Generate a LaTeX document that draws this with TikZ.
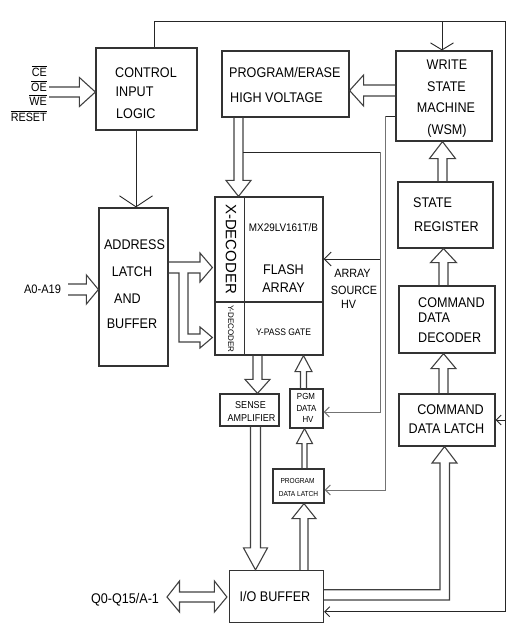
\documentclass[tikz,border=0pt]{standalone}
\usepackage{fontspec}
\setmainfont{Liberation Sans}[FakeStretch=0.9]
\newfontfamily\widefont{Liberation Sans}
\usetikzlibrary{arrows.meta,calc}
% vertical hollow arrow: x-centre, tail anchor, tip anchor, shaft half, head half, head length (+ up, - down)
\newcommand\HV[6]{\draw[harrow] let \p1=(#2), \p2=(#3) in
  ({#1pt-#4pt},\y1) -- ({#1pt-#4pt},{\y2-(#6pt)}) -- ({#1pt-#5pt},{\y2-(#6pt)}) -- (#1pt,\y2)
  -- ({#1pt+#5pt},{\y2-(#6pt)}) -- ({#1pt+#4pt},{\y2-(#6pt)}) -- ({#1pt+#4pt},\y1);}
% horizontal hollow arrow: y-centre, tail anchor, tip anchor, shaft half, head half, head length (+ right, - left)
\newcommand\HH[6]{\draw[harrow] let \p1=(#2), \p2=(#3) in
  (\x1,{#1pt+#4pt}) -- ({\x2-(#6pt)},{#1pt+#4pt}) -- ({\x2-(#6pt)},{#1pt+#5pt}) -- (\x2,#1pt)
  -- ({\x2-(#6pt)},{#1pt-#5pt}) -- ({\x2-(#6pt)},{#1pt-#4pt}) -- (\x1,{#1pt-#4pt});}
\begin{document}
\begin{tikzpicture}[x=1pt,y=1pt,
  box/.style={draw=black!80,line width=1.2pt,inner sep=0pt,rectangle},
  wire/.style={draw=black!85,line width=0.9pt},
  gwire/.style={draw=black!55,line width=1pt},
  harrow/.style={draw=black!75,line width=1.1pt,line join=miter},
  txt/.style={inner sep=0pt,anchor=base,font=\fontsize{#1}{#1}\selectfont},
  txt/.default=14,
  txl/.style={txt=#1,anchor=base west}, txl/.default=14,
  txr/.style={txt=#1,anchor=base east}, txr/.default=12,
  sb/.style={-{Straight Barb[length=5pt,width=10pt]}},
  mb/.style={-{Straight Barb[length=7pt,width=14pt]}},
  bb/.style={-{Straight Barb[length=7pt,width=23pt]}},
  hb/.style={-{Straight Barb[length=11pt,width=33pt]}}]
\useasboundingbox (0,0) rectangle (531,-625);

% boxes
\node[box,minimum width=101pt,minimum height=82pt] (ctl) at (146.5,-89) {};
\node[box,minimum width=127pt,minimum height=66pt] (pe) at (285.5,-84) {};
\node[box,minimum width=96pt,minimum height=90pt] (wsm) at (444,-96) {};
\node[box,minimum width=69pt,minimum height=158pt] (addr) at (133.5,-287) {};
\node[box,minimum width=108pt,minimum height=158pt] (flash) at (269,-276) {};
\node[box,minimum width=95pt,minimum height=66pt] (sr) at (445.5,-215) {};
\node[box,minimum width=96pt,minimum height=67pt] (cdd) at (447,-319.5) {};
\node[box,minimum width=96pt,minimum height=52pt] (cdl) at (447,-420) {};
\node[box,minimum width=59pt,minimum height=32pt] (sense) at (249.5,-410) {};
\node[box,minimum width=33pt,minimum height=39pt] (pgm) at (306.5,-408.5) {};
\node[box,minimum width=51pt,minimum height=34pt] (pdl) at (298.5,-486) {};
\node[box,minimum width=94pt,minimum height=52pt] (io) at (276.5,-596.5) {};
% flash dividers
\draw[box] ($(flash.north west)+(30,0)$) -- ($(flash.south west)+(30,0)$);
\draw[box] (flash.west |- 0,-302) -- (flash.east |- 0,-302);

% texts
\node[txl] (c1) at (115,-77) {CONTROL};
\node[txl] (c2) at (115.5,-96) {INPUT};
\node[txl] (c3) at (116,-118) {LOGIC};
\node[txl] (p1) at (229,-77) {PROGRAM/ERASE};
\node[txl] (p2) at (230,-102) {HIGH VOLTAGE};
\node[txt] (w1) at (447,-69) {WRITE};
\node[txt] (w2) at (446.5,-91) {STATE};
\node[txt] (w3) at (446,-112) {MACHINE};
\node[txt] (w4) at (447,-134) {(WSM)};
\node[txt] (a1) at (134.5,-249) {ADDRESS};
\node[txt] (a2) at (132,-276) {LATCH};
\node[txt] (a3) at (127.5,-303) {AND};
\node[txt] (a4) at (132,-328) {BUFFER};
\node[txt=11] (f0) at (283.5,-231.9) {MX29LV161T/B};
\node[txt] (f1) at (283.5,-274) {FLASH};
\node[txt] (f2) at (283.5,-292) {ARRAY};
\node[txt=9.5] (f3) at (283.5,-335.4) {Y-PASS GATE};
\node[inner sep=0pt,rotate=-90,font=\widefont\fontsize{15}{15}\selectfont] (xd) at (231,-249) {X-DECODER};
\node[inner sep=0pt,rotate=-90,font=\widefont\fontsize{8}{8}\selectfont] (yd) at (231,-329) {Y-DECODER};
\node[txt=12] (s1) at (352.5,-277.3) {ARRAY};
\node[txt=12] (s2) at (354,-294.3) {SOURCE};
\node[txt=12] (s3) at (348.5,-308.3) {HV};
\node[txl] (r1) at (413,-207) {STATE};
\node[txl] (r2) at (414,-231) {REGISTER};
\node[txl] (d1) at (418,-307) {COMMAND};
\node[txl] (d2) at (418,-322) {DATA};
\node[txl] (d3) at (418,-342) {DECODER};
\node[txt] (l1) at (450.5,-414) {COMMAND};
\node[txt] (l2) at (446.5,-433) {DATA LATCH};
\node[txt=10] (e1) at (250.5,-408.6) {SENSE};
\node[txt=10] (e2) at (251.5,-421.6) {AMPLIFIER};
\node[txt=8.8] (g1) at (306,-399.2) {PGM};
\node[txt=8.8] (g2) at (306.5,-411.2) {DATA};
\node[txt=8.8] (g3) at (308,-422.2) {HV};
\node[txt=7.3] (h1) at (297.5,-483.6) {PROGRAM};
\node[txt=7.3] (h2) at (298.5,-496.6) {DATA LATCH};
\node[txt] (iot) at (275,-601.5) {I/O BUFFER};
\node[txt] (q) at (125,-603) {Q0-Q15/A-1};
\node[txt=12.3] (ain-t) at (42.5,-293.3) {A0-A19};
\node[txr] (ce) at (47,-76.3) {$\overline{\mbox{CE}}$};
\node[txr] (oe) at (47,-91.3) {$\overline{\mbox{OE}}$};
\node[txr] (we) at (47,-105.3) {$\overline{\mbox{WE}}$};
\node[txr] (rs) at (47,-121.3) {$\overline{\mbox{RESET}}$};

% hollow arrows
\coordinate (cin) at (49,-92);
\coordinate (ain) at (68,-289.5);
\HH{-92}{cin}{ctl.west}{5}{14.5}{16}
\HH{-289.5}{ain}{addr.west}{5.5}{14.5}{12}
\HH{-90.5}{wsm.west}{pe.east}{5.5}{15.5}{-14}
\HV{238.5}{pe.south}{flash.north}{4.5}{12.5}{-16}
\HV{257.5}{flash.south}{sense.north}{4.5}{12.5}{-14}
\HV{255.5}{sense.south}{io.north}{5}{12}{-22}
\HV{303.5}{pgm.north}{flash.south}{3}{8.5}{16}
\HV{304.5}{pdl.north}{pgm.south}{2.5}{8}{15}
\HV{304}{io.north}{pdl.south}{4}{12}{15}
\HV{443.5}{cdl.north}{cdd.south}{4.5}{12.5}{15}
\HV{443.5}{cdd.north}{sr.south}{4.5}{13}{14}
\HV{442.5}{sr.north}{wsm.south}{4.5}{13}{17}
% Q0-Q15 double hollow arrow
\coordinate (qtip) at (167,-597);
\draw[harrow] let \p1=(qtip), \p2=(io.west) in
  (\x1,-597pt) -- ({\x1+12.5pt},-581pt) -- ({\x1+12.5pt},-592pt) -- ({\x2-14.5pt},-592pt)
  -- ({\x2-14.5pt},-581pt) -- ({\x2-2pt},-597pt) -- ({\x2-14.5pt},-612pt) -- ({\x2-14.5pt},-602pt)
  -- ({\x1+12.5pt},-602pt) -- ({\x1+12.5pt},-612pt) -- cycle;
% address -> X / Y decoder
\draw[harrow] let \p1=(addr.east), \p2=(flash.west) in
  (\x1,-262pt) -- (200pt,-262pt) -- (200pt,-253pt) -- ({\x2-2pt},-267.5pt) -- (200pt,-282pt)
  -- (200pt,-273pt) -- (188pt,-273pt) -- (188pt,-334pt) -- (200pt,-334pt) -- (200pt,-327pt)
  -- ({\x2-2pt},-337.5pt) -- (200pt,-348pt) -- (200pt,-342pt) -- (179pt,-342pt) -- (179pt,-273pt) -- (\x1,-273pt);
% I/O -> command data latch
\draw[harrow] let \p1=(io.east), \p2=(cdl.south) in
  (\x1,-589.7pt) -- (440pt,-589.7pt) -- (440pt,-463pt) -- (432pt,-463pt) -- (444.5pt,\y2)
  -- (457pt,-463pt) -- (449.5pt,-463pt) -- (449.5pt,-600pt) -- (\x1,-600pt);

% thin wires
\coordinate (topL) at ($(ctl.north)+(7.5,0)$);
\draw[wire,sb] (topL) |- (505,-21) -- (505,-611.7) -- (io.east |- 0,-611.7);
\draw[wire,bb] (442,-21) -- (442,0 |- wsm.north);
\draw[wire,sb] (505,-420) -- (cdl.east);
\draw[wire,hb] (ctl.south -| 136,0) -- (addr.north -| 136,0);
\coordinate (pehv) at (243,-152);
\draw[wire] (pehv) -- (380,-152);
\draw[gwire,sb] (380,-152) -- (380,-412) -- (pgm.east |- 0,-412);
\draw[wire,mb] (380,-259) -- (flash.east |- 0,-259);
\draw[wire] (wsm.west |- 0,-116) -- (385,-116);
\draw[gwire,sb] (385,-116) -- (385,-490) -- (pdl.east |- 0,-490);
\end{tikzpicture}
\end{document}
